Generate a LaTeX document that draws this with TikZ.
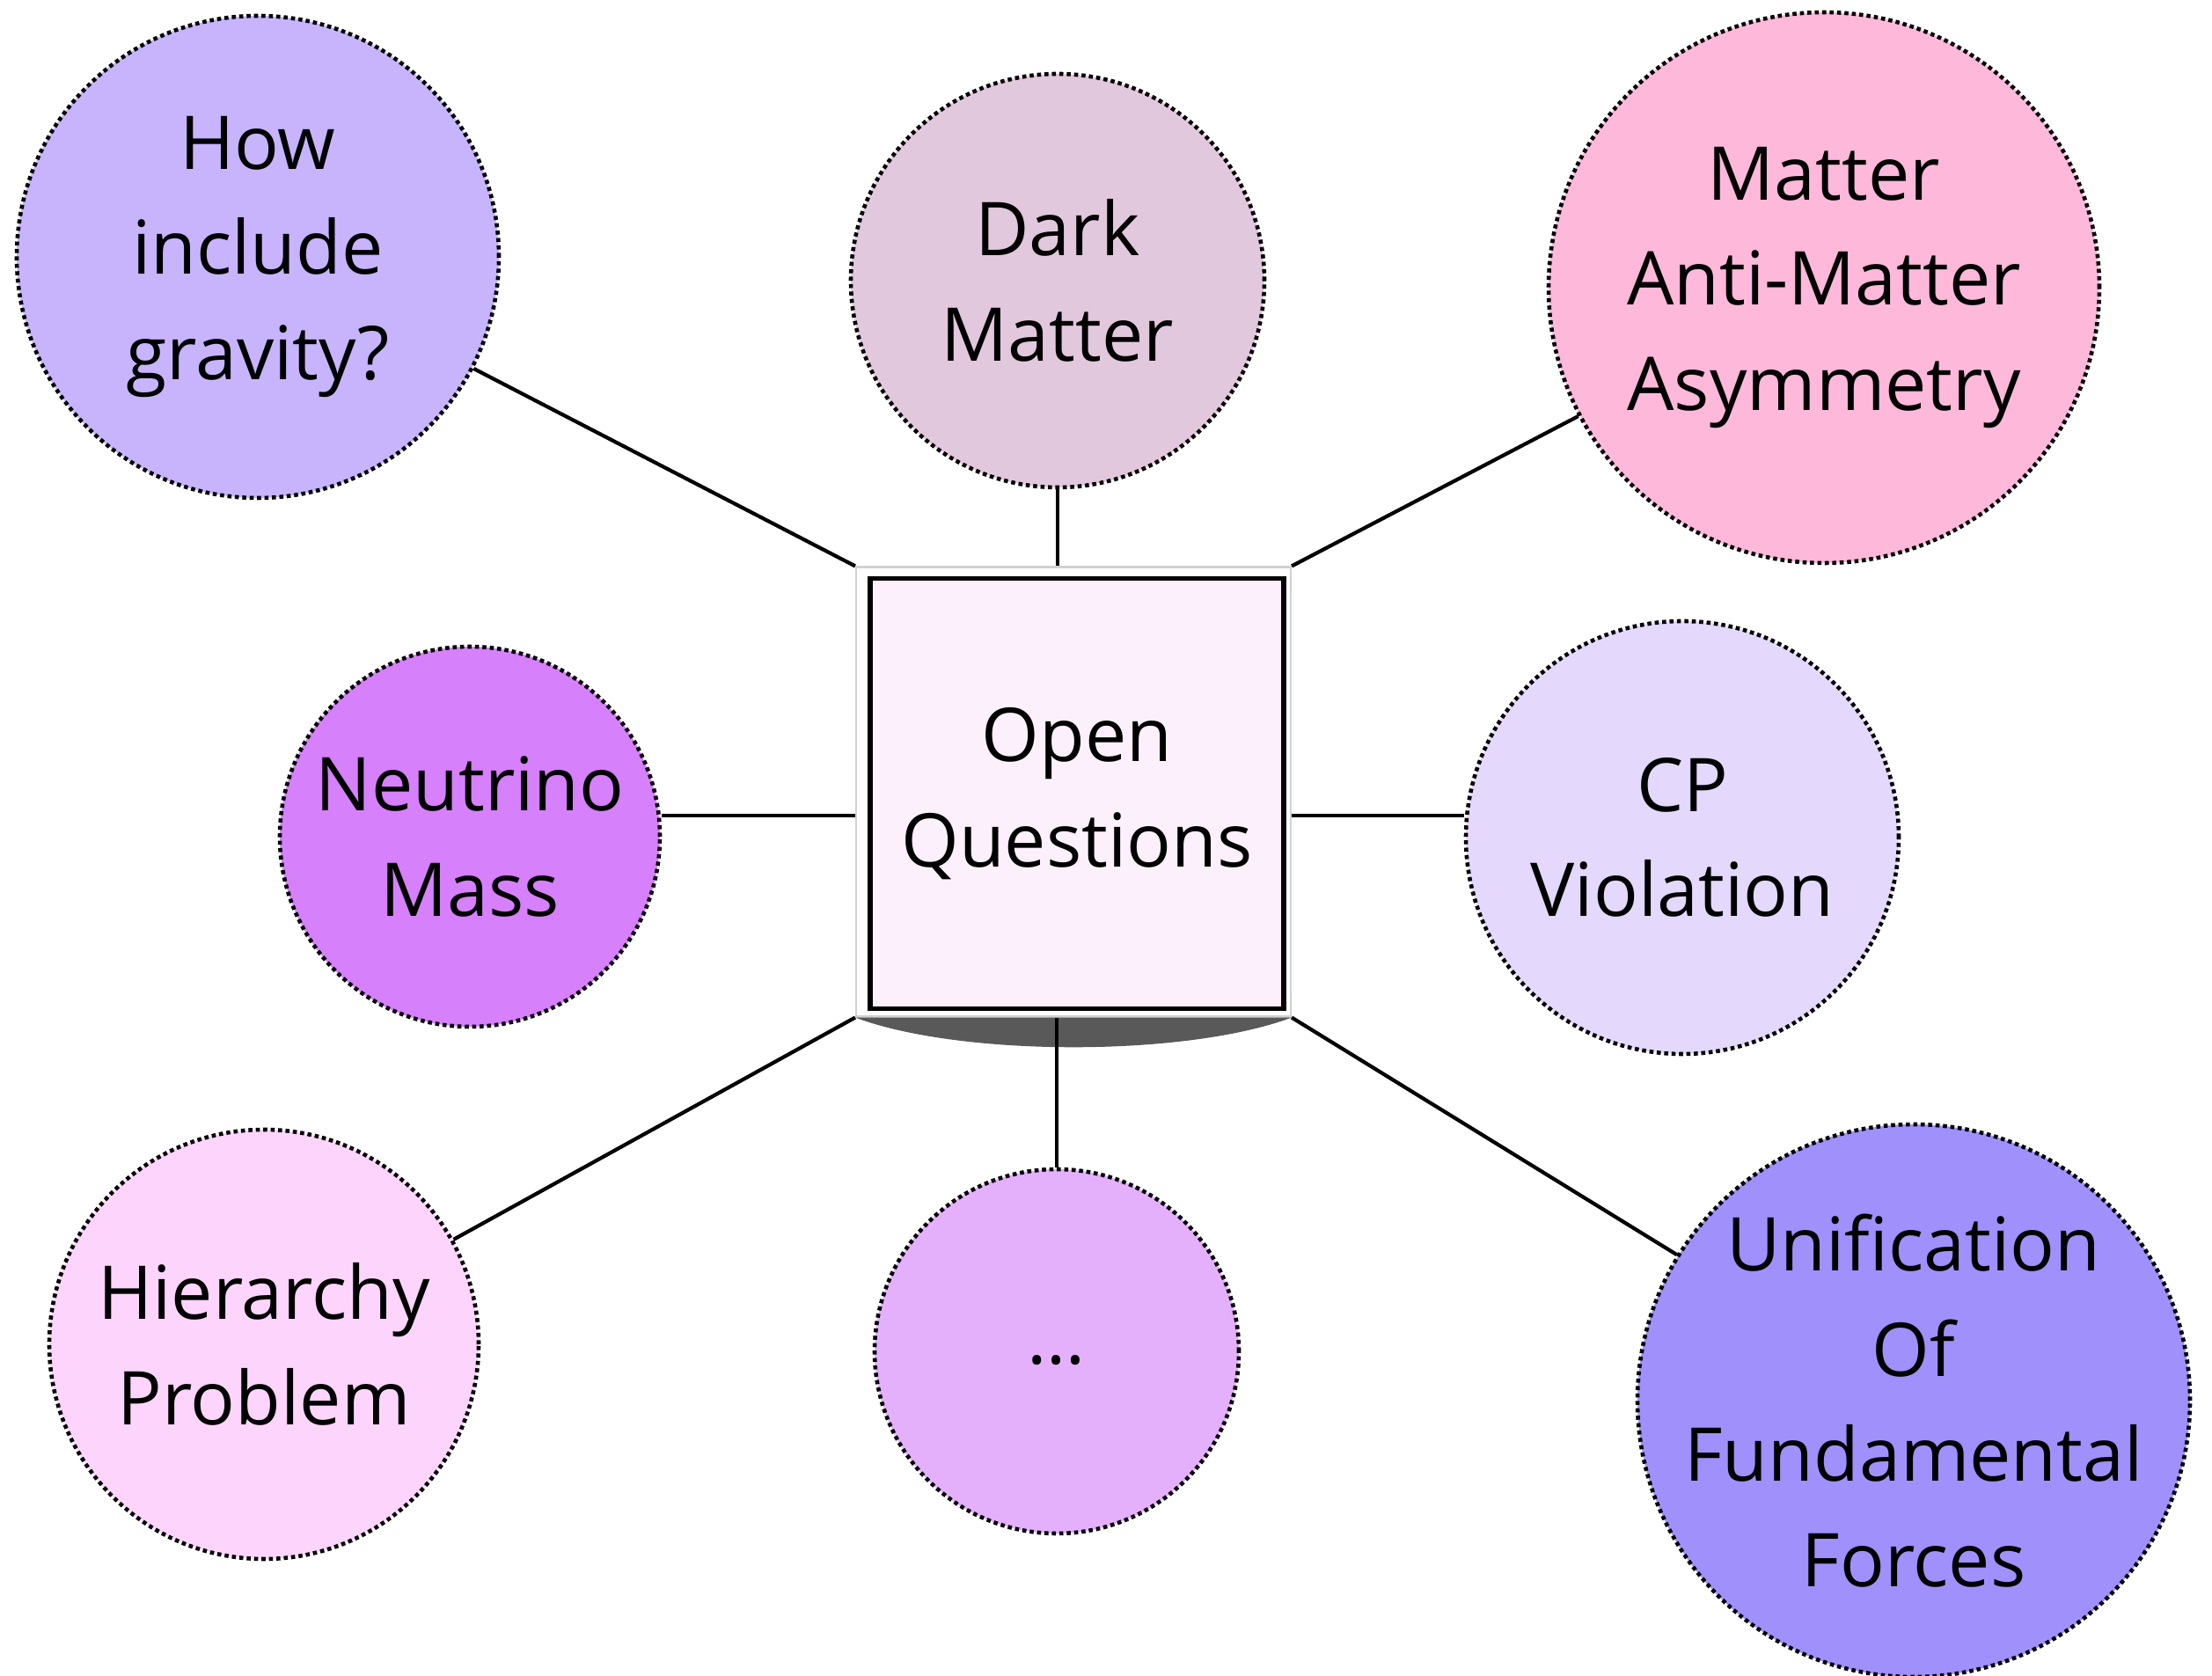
\documentclass[tikz,border=0pt]{standalone}
\usepackage{fontspec}
\setmainfont{Open Sans}
\usetikzlibrary{calc}

\definecolor{gravcol}{HTML}{C7B4FD}
\definecolor{darkcol}{HTML}{E2C8DC}
\definecolor{asymcol}{HTML}{FDB8DA}
\definecolor{nucol}{HTML}{D680FC}
\definecolor{cpcol}{HTML}{E4D8FC}
\definecolor{hiercol}{HTML}{FCD4FC}
\definecolor{morecol}{HTML}{E4B0FC}
\definecolor{unifcol}{HTML}{A090FC}
\definecolor{boxcol}{HTML}{FCF0FC}

\begin{document}
\begin{tikzpicture}[
  font=\fontsize{24}{34}\selectfont,
  topic/.style={circle, draw=black, line width=1.3pt, dash pattern=on 1.3pt off 1.1pt, align=center, inner sep=0pt},
  link/.style={line width=1.2pt, draw=black},
  frame/.style={draw=black!18, fill=white, line width=0.6pt, minimum width=4.94cm, minimum height=5.11cm},
  core/.style={draw=black, fill=boxcol, line width=1.6pt, minimum width=4.70cm, minimum height=4.89cm, align=center}
]
\useasboundingbox (0,0) rectangle (25.14,19.05);

\node[frame] (box) at (12.20,10.05) {};
\node[core] (core) at (12.24,10.03) {Open\\Questions};

\node[topic, fill=gravcol, minimum size=5.48cm] (grav) at (2.93,16.13) {How\\include\\gravity?};
\node[topic, fill=darkcol, minimum size=4.70cm] (dark) at (12.02,15.86) {Dark\\Matter};
\node[topic, fill=asymcol, minimum size=6.26cm] (asym) at (20.73,15.78) {Matter\\Anti-Matter\\Asymmetry};
\node[topic, fill=nucol, minimum size=4.32cm] (nu) at (5.34,9.54) {Neutrino\\Mass};
\node[topic, fill=cpcol, minimum size=4.92cm] (cp) at (19.12,9.53) {CP\\Violation};
\node[topic, fill=hiercol, minimum size=4.88cm] (hier) at (3.00,3.77) {Hierarchy\\Problem};
\node[topic, fill=morecol, minimum size=4.14cm] (more) at (12.01,3.69) {\raisebox{-0.3cm}{\dots}};
\node[topic, fill=unifcol, minimum size=6.28cm, inner sep=-0.4cm] (unif) at (21.75,3.13) {Unification\\Of\\Fundamental\\Forces};

% shadow under the box
\fill[black!65] (box.south west) .. controls ($(box.south west)+(1.2,-0.45)$) and ($(box.south east)+(-1.2,-0.45)$) .. (box.south east) -- cycle;

\coordinate (hline) at (12.2,9.78);

\draw[link] (grav) -- (box.north west);
\draw[link] (dark.south) -- (dark.south |- box.north);
\draw[link] (asym) -- (box.north east);
\draw[link] (nu.east |- hline) -- (box.west |- hline);
\draw[link] (cp.west |- hline) -- (box.east |- hline);
\draw[link] (hier) -- (box.south west);
\draw[link] (more.north) -- (more.north |- box.south);
\draw[link] (unif) -- (box.south east);

\end{tikzpicture}
\end{document}
